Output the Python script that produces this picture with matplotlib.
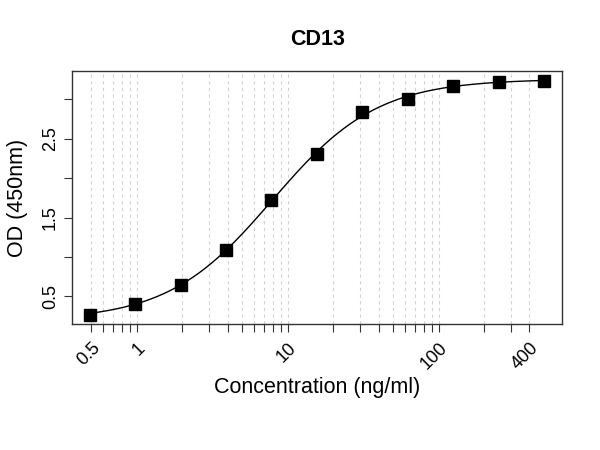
import numpy as np
import matplotlib
matplotlib.use("Agg")
import matplotlib.pyplot as plt

plt.rcParams['font.family'] = ['Liberation Sans', 'DejaVu Sans']

# standard concentrations (ng/ml) and measured OD
conc = [0.49, 0.98, 1.95, 3.9, 7.8, 15.6, 31.25, 62.5, 125, 250, 500]
od = [0.27, 0.41, 0.65, 1.085, 1.725, 2.31, 2.84, 3.00, 3.17, 3.22, 3.24]

tick_pos = [0.5, 1, 10, 100, 400]
tick_lab = ["0.5", "1", "10", "100", "400"]
minor_pos = [0.5, 0.6, 0.7, 0.8, 0.9, 1, 2, 3, 4, 5, 6, 7, 8, 9, 10,
             20, 30, 40, 50, 60, 70, 80, 90, 100, 200, 300, 400]
ytick_pos = [0.5, 1.0, 1.5, 2.0, 2.5, 3.0]
ytick_lab = ["0.5", "", "1.5", "", "2.5", ""]


def fit_4pl(x, y):
    """Grid search on slope/EC50, bottom and top by linear least squares."""
    x = np.asarray(x, float)
    y = np.asarray(y, float)
    best = None
    for b in np.linspace(0.5, 3.0, 251):
        for lc in np.linspace(-0.5, 2.5, 301):
            g = 1.0 / (1.0 + (10 ** lc / x) ** b)
            M = np.column_stack([1 - g, g])
            coef, *_ = np.linalg.lstsq(M, y, rcond=None)
            r = np.sum((M @ coef - y) ** 2)
            if best is None or r < best[0]:
                best = (r, b, 10 ** lc, coef[0], coef[1])
    return best[1:]


b, c, lo, hi = fit_4pl(conc, od)
xs = np.logspace(np.log10(min(conc)), np.log10(max(conc)), 300)
ys = lo + (hi - lo) / (1 + (c / xs) ** b)

fig = plt.figure(figsize=(6, 4.5), dpi=100)
ax = fig.add_axes([0.12, 0.28, 0.817, 0.562])

for p in minor_pos:
    ax.axvline(p, color="#d3d3d3", linestyle=(0, (3, 3)), linewidth=0.8, zorder=0)

ax.plot(xs, ys, color="black", linewidth=1.0, zorder=2)
ax.plot(conc, od, "s", color="black", markersize=8, zorder=3)

ax.set_xscale("log")
ax.set_xlim(0.372, 660)
ax.set_ylim(0.15, 3.36)

ax.set_xticks(minor_pos)
ax.set_xticklabels([tick_lab[tick_pos.index(p)] if p in tick_pos else "" for p in minor_pos],
                   rotation=45, ha="right", va="top", rotation_mode="anchor", fontsize=13)
ax.xaxis.set_minor_locator(matplotlib.ticker.NullLocator())
ax.set_yticks(ytick_pos)
ax.set_yticklabels(ytick_lab, rotation=90, va="center", fontsize=13)
ax.tick_params(length=6, width=0.8, color="#333333")
ax.tick_params(axis="x", pad=5)

for s in ax.spines.values():
    s.set_color("#333333")
    s.set_linewidth(1.0)

ax.set_xlabel("Concentration (ng/ml)", fontsize=15.5, labelpad=3)
ax.set_ylabel("OD (450nm)", fontsize=15.5, labelpad=10)
ax.set_title("CD13", fontsize=15.5, fontweight="bold", pad=19)

fig.savefig("out.png", dpi=100)
